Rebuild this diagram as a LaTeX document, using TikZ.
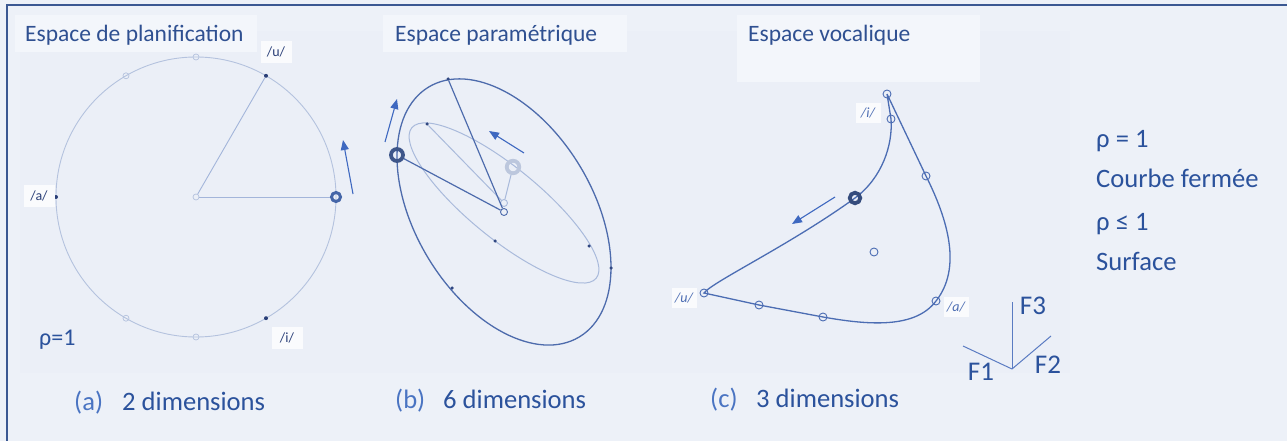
\documentclass[tikz,border=0pt]{standalone}
\usepackage{fontspec}
\setmainfont{Carlito}
\usetikzlibrary{arrows.meta}
\definecolor{bg}{HTML}{EDF1F8}
\definecolor{bgtex}{HTML}{EBEFF7}
\definecolor{titlebox}{HTML}{F3F6FB}
\definecolor{frame}{HTML}{3B5892}
\definecolor{txt}{HTML}{2B529C}
\definecolor{ttl}{HTML}{2F5091}
\definecolor{lett}{HTML}{4A74C2}
\definecolor{circA}{HTML}{B4C2DE}
\definecolor{lineA}{HTML}{A3B5DA}
\definecolor{dotdark}{HTML}{2A3F78}
\definecolor{ringdark}{HTML}{4566A8}
\definecolor{ellO}{HTML}{4D6BAC}
\definecolor{ellI}{HTML}{A9BADB}
\definecolor{ringgray}{HTML}{BCC7DD}
\definecolor{curveC}{HTML}{4C6DB3}
\definecolor{arrcol}{HTML}{3E68C0}
\definecolor{axcol}{HTML}{5A7BC2}
\tikzset{
  ttlfont/.style={font=\fontsize{23.5}{28}\selectfont, text=ttl},
  bigfont/.style={font=\fontsize{26.6}{30}\selectfont, text=txt},
  letfont/.style={font=\fontsize{26.6}{30}\selectfont, text=lett},
  vlab/.style={font=\fontsize{14}{16}\selectfont, text=dotdark, fill=white!70!bg, inner sep=3pt, minimum width=31pt, minimum height=22pt},
  vlabc/.style={font=\fontsize{14}{16}\selectfont\itshape, text=curveC, fill=white!70!bg, inner sep=2pt, minimum width=25pt, minimum height=20pt},
  odotA/.style={circle, draw=circA, line width=0.7pt, inner sep=0pt, minimum size=6pt},
  fdotA/.style={circle, fill=dotdark, inner sep=0pt, minimum size=4pt},
  ringA/.style={circle, draw=ringdark, line width=3pt, inner sep=0pt, minimum size=9pt},
  fdotB/.style={circle, fill=dotdark!80!ellO, inner sep=0pt, minimum size=3.5pt},
  ringB/.style={circle, draw=ellO!80!black, line width=3.8pt, inner sep=0pt, minimum size=12pt},
  ringG/.style={circle, draw=ringgray, line width=3.8pt, inner sep=0pt, minimum size=12.5pt},
  odotB/.style={circle, draw=ellO, line width=0.9pt, inner sep=0pt, minimum size=7pt},
  odotBl/.style={circle, draw=ellI, line width=0.9pt, inner sep=0pt, minimum size=7pt},
  odotC/.style={circle, draw=curveC, line width=0.9pt, inner sep=0pt, minimum size=8pt},
  ringC/.style={circle, draw=curveC!70!black, line width=3.8pt, inner sep=0pt, minimum size=10.5pt},
  arr/.style={draw=arrcol, line width=1.1pt, -{Triangle[length=10pt,width=8pt]}},
  axis/.style={draw=axcol, line width=1pt},
}
\begin{document}
\begin{tikzpicture}[x=1pt,y=-1pt]
\useasboundingbox (0,0) rectangle (1287,441);
\fill[bg] (0,0) rectangle (1287,441);
\fill[bgtex] (20,31) rectangle (1070,373);
\draw[frame, line width=2pt] (7,441) -- (7,5) -- (1287,5);

% titles
\fill[titlebox] (15,15) rectangle (257,52);
\fill[titlebox] (383,15) rectangle (627,52);
\fill[titlebox] (737,15) rectangle (980,82);
\node[ttlfont, anchor=base west, inner sep=0pt] (t1) at (25,42) {Espace de planification};
\node[ttlfont, anchor=base west, inner sep=0pt] (t2) at (395,42) {Espace paramétrique};
\node[ttlfont, anchor=base west, inner sep=0pt] (t3) at (748,42) {Espace vocalique};

% ---------- panel (a)
\coordinate (ca) at (196,197);
\draw[circA, line width=0.9pt] (ca) circle[radius=140pt];
\node[odotA] (a90) at (196,57) {};
\node[odotA] (a120) at (126,75.8) {};
\node[odotA] (a240) at (126,318.2) {};
\node[odotA] (a270) at (196,337) {};
\node[odotA] (ac) at (196,197) {};
\node[fdotA] (au) at (266,75.8) {};
\node[fdotA] (aa) at (56,197) {};
\node[fdotA] (ai) at (266,318.2) {};
\node[ringA] (ar) at (336,197) {};
\draw[lineA, line width=0.9pt] (ac) -- (au);
\draw[lineA, line width=0.9pt] (ac) -- (ar);
\coordinate (aT) at (353,194);
\coordinate (aH) at (343,140);
\draw[arr] (aT) -- (aH);
\node[vlab] (lu) at (276,52) {/u/};
\node[vlab] (la) at (39,196) {/a/};
\node[vlab] (li) at (287,338) {/i/};
\node[font=\fontsize{24}{28}\selectfont, text=txt, anchor=base west, inner sep=0pt] (rho1) at (39,345) {ρ=1};
\node[letfont, anchor=base west, inner sep=0pt] (la1) at (74,410) {(a)};
\node[bigfont, anchor=base west, inner sep=0pt] (da) at (122,410) {2 dimensions};

% ---------- panel (b)
\coordinate (cbo) at (504,212);
\coordinate (cbi) at (504,203);
\draw[ellO, line width=1.3pt, rotate around={-58.9:(cbo)}] (cbo) ellipse [x radius=145.9pt, y radius=88.7pt];
\draw[ellI, line width=1pt, rotate around={-39.2:(cbi)}] (cbi) ellipse [x radius=119pt, y radius=35.5pt];
\node[fdotB] (bt) at (448,79) {};
\node[fdotB] (br) at (611,268) {};
\node[fdotB] (bl) at (452,288) {};
\node[fdotB] (it) at (427,124) {};
\node[fdotB] (ib) at (495,241) {};
\node[fdotB] (ir) at (589,246) {};
\node[odotBl] (bci) at (cbi) {};
\node[odotB] (bco) at (cbo) {};
\node[ringG] (bg) at (513,167) {};
\node[ringB] (bk) at (397,155) {};
\draw[ellI, line width=1pt] (it) -- (bci);
\draw[ellI, line width=1pt] (bg) -- (bci);
\draw[ellO, line width=1.2pt] (bt) -- (bco);
\draw[ellO, line width=1.2pt] (bk) -- (bco);
\coordinate (bT1) at (385,142);
\coordinate (bH1) at (397,99);
\draw[arr] (bT1) -- (bH1);
\coordinate (bT2) at (524,153);
\coordinate (bH2) at (489,131);
\draw[arr] (bT2) -- (bH2);
\node[letfont, anchor=base west, inner sep=0pt] (lb1) at (395,408) {(b)};
\node[bigfont, anchor=base west, inner sep=0pt] (db) at (443,408) {6 dimensions};

% ---------- panel (c)
\coordinate (c0) at (887,94);
\coordinate (c1) at (891,119);
\coordinate (c2) at (926,176);
\coordinate (ca2) at (936,301);
\coordinate (cb1) at (823,317);
\coordinate (cb2) at (759,305);
\coordinate (cu) at (704,293);
\coordinate (cr) at (855,198);
\draw[curveC, line width=1.3pt] (c0) -- (c2) .. controls (948,220) and (962,268) .. (ca2)
   .. controls (915,329) and (868,325) .. (cb1) -- (cb2) -- (cu)
   .. controls (712,282) and (790,245) .. (cr)
   .. controls (882,178) and (893,145) .. (c1) -- (c0);
\node[odotC] (n0) at (c0) {};
\node[odotC] (n1) at (c1) {};
\node[odotC] (n2) at (c2) {};
\node[odotC] (n3) at (ca2) {};
\node[odotC] (n4) at (cb1) {};
\node[odotC] (n5) at (cb2) {};
\node[odotC] (n6) at (cu) {};
\node[odotC] (n7) at (874,252) {};
\node[ringC] (n8) at (cr) {};
\coordinate (cT) at (835,197);
\coordinate (cH) at (792,224);
\draw[arr] (cT) -- (cH);
\node[vlabc] (lci) at (868,113) {/i/};
\node[vlabc] (lca) at (956,307) {/a/};
\node[vlabc] (lcu) at (684,298) {/u/};
\node[letfont, anchor=base west, inner sep=0pt] (lc1) at (710,407) {(c)};
\node[bigfont, anchor=base west, inner sep=0pt] (dc) at (756,407) {3 dimensions};

% axes
\coordinate (o) at (1012,369);
\coordinate (f3e) at (1012,302);
\coordinate (f1e) at (963,346);
\coordinate (f2e) at (1051,336);
\draw[axis] (o) -- (f3e);
\draw[axis] (o) -- (f1e);
\draw[axis] (o) -- (f2e);
\node[bigfont, font=\fontsize{27}{30}\selectfont, inner sep=0pt] (F3) at (1033,306) {F3};
\node[bigfont, font=\fontsize{27}{30}\selectfont, inner sep=0pt] (F1) at (981,372) {F1};
\node[bigfont, font=\fontsize{27}{30}\selectfont, inner sep=0pt] (F2) at (1048,365) {F2};

% right texts
\node[bigfont, anchor=base west, inner sep=0pt] (r1) at (1096,147) {ρ = 1};
\node[bigfont, anchor=base west, inner sep=0pt] (r2) at (1096,187) {Courbe fermée};
\node[bigfont, anchor=base west, inner sep=0pt] (r3) at (1096,230) {ρ ≤ 1};
\node[bigfont, anchor=base west, inner sep=0pt] (r4) at (1096,270) {Surface};
\end{tikzpicture}
\end{document}
